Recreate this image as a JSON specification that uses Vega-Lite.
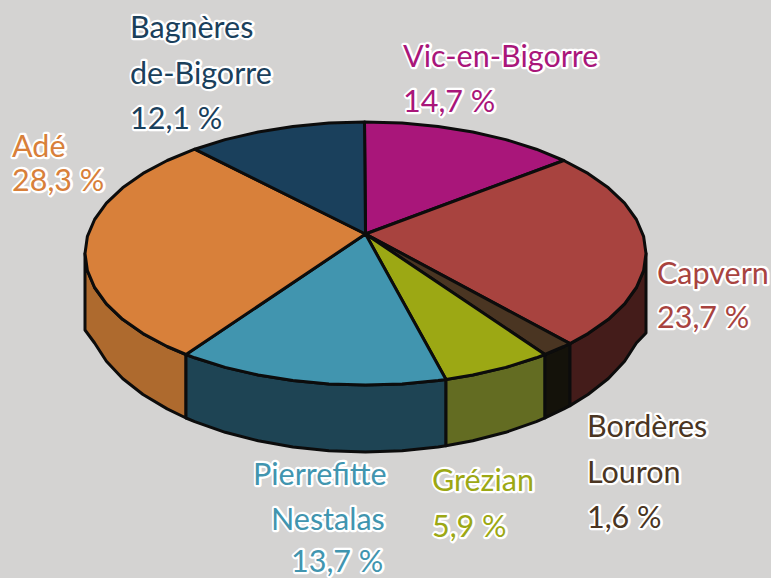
{"$schema":"https://vega.github.io/schema/vega-lite/v6.json","width":771,"height":578,"autosize":{"type":"none"},"padding":0,"background":"#D4D3D2","view":{"stroke":null},"config":{"axis":{"domain":false,"grid":false}},
"datasets":{
"walls":[
{"p":"Adé","s":1,"x":85,"y":253.5},{"p":"Adé","s":2,"x":87.4,"y":270.7},{"p":"Adé","s":3,"x":94.6,"y":287.5},{"p":"Adé","s":4,"x":106.4,"y":303.8},{"p":"Adé","s":5,"x":122.6,"y":319.3},{"p":"Adé","s":6,"x":143,"y":333.6},{"p":"Adé","s":7,"x":167.2,"y":346.5},{"p":"Adé","s":8,"x":186,"y":354.5},{"p":"Adé","s":9,"x":186,"y":418},{"p":"Adé","s":10,"x":167.2,"y":408.9},{"p":"Adé","s":11,"x":143,"y":394.5},{"p":"Adé","s":12,"x":122.6,"y":378.5},{"p":"Adé","s":13,"x":106.4,"y":361.3},{"p":"Adé","s":14,"x":94.6,"y":343},{"p":"Adé","s":15,"x":85,"y":330},
{"p":"Pierrefitte","s":1,"x":186,"y":354.5},{"p":"Pierrefitte","s":2,"x":194.7,"y":357.8},{"p":"Pierrefitte","s":3,"x":225.2,"y":367.4},{"p":"Pierrefitte","s":4,"x":258.2,"y":375},{"p":"Pierrefitte","s":5,"x":292.9,"y":380.5},{"p":"Pierrefitte","s":6,"x":328.9,"y":383.9},{"p":"Pierrefitte","s":7,"x":365.5,"y":385},{"p":"Pierrefitte","s":8,"x":402.1,"y":383.9},{"p":"Pierrefitte","s":9,"x":438.1,"y":380.5},{"p":"Pierrefitte","s":10,"x":446,"y":379.4},{"p":"Pierrefitte","s":11,"x":446,"y":445.8},{"p":"Pierrefitte","s":12,"x":438.1,"y":447},{"p":"Pierrefitte","s":13,"x":402.1,"y":450.7},{"p":"Pierrefitte","s":14,"x":365.5,"y":452},{"p":"Pierrefitte","s":15,"x":328.9,"y":450.7},{"p":"Pierrefitte","s":16,"x":292.9,"y":447},{"p":"Pierrefitte","s":17,"x":258.2,"y":440.8},{"p":"Pierrefitte","s":18,"x":225.2,"y":432.3},{"p":"Pierrefitte","s":19,"x":194.7,"y":421.6},{"p":"Pierrefitte","s":20,"x":186,"y":418},
{"p":"Grézian","s":1,"x":446,"y":379.4},{"p":"Grézian","s":2,"x":472.8,"y":375},{"p":"Grézian","s":3,"x":505.8,"y":367.4},{"p":"Grézian","s":4,"x":536.3,"y":357.8},{"p":"Grézian","s":5,"x":545,"y":354.5},{"p":"Grézian","s":6,"x":545,"y":417.9},{"p":"Grézian","s":7,"x":536.3,"y":421.6},{"p":"Grézian","s":8,"x":505.8,"y":432.3},{"p":"Grézian","s":9,"x":472.8,"y":440.8},{"p":"Grézian","s":10,"x":446,"y":445.8},
{"p":"Bordères","s":1,"x":545,"y":354.5},{"p":"Bordères","s":2,"x":563.8,"y":346.5},{"p":"Bordères","s":3,"x":570,"y":343.6},{"p":"Bordères","s":4,"x":570,"y":405.6},{"p":"Bordères","s":5,"x":563.8,"y":408.9},{"p":"Bordères","s":6,"x":545,"y":417.9},
{"p":"Capvern","s":1,"x":570,"y":343.6},{"p":"Capvern","s":2,"x":588,"y":333.6},{"p":"Capvern","s":3,"x":608.4,"y":319.3},{"p":"Capvern","s":4,"x":624.6,"y":303.8},{"p":"Capvern","s":5,"x":636.4,"y":287.5},{"p":"Capvern","s":6,"x":643.6,"y":270.7},{"p":"Capvern","s":7,"x":646,"y":253.5},{"p":"Capvern","s":8,"x":646,"y":333},{"p":"Capvern","s":9,"x":636.4,"y":343},{"p":"Capvern","s":10,"x":624.6,"y":361.3},{"p":"Capvern","s":11,"x":608.4,"y":378.5},{"p":"Capvern","s":12,"x":588,"y":394.5},{"p":"Capvern","s":13,"x":570,"y":405.6}
],
"tops":[
{"p":"Vic-en-Bigorre","s":1,"x":365.5,"y":234},{"p":"Vic-en-Bigorre","s":2,"x":364.5,"y":122},{"p":"Vic-en-Bigorre","s":3,"x":402.1,"y":123.1},{"p":"Vic-en-Bigorre","s":4,"x":438.1,"y":126.5},{"p":"Vic-en-Bigorre","s":5,"x":472.8,"y":132},{"p":"Vic-en-Bigorre","s":6,"x":505.8,"y":139.6},{"p":"Vic-en-Bigorre","s":7,"x":536.3,"y":149.2},{"p":"Vic-en-Bigorre","s":8,"x":563.8,"y":160.5},
{"p":"Capvern","s":1,"x":365.5,"y":234},{"p":"Capvern","s":2,"x":563.8,"y":160.5},{"p":"Capvern","s":3,"x":588,"y":173.4},{"p":"Capvern","s":4,"x":608.4,"y":187.8},{"p":"Capvern","s":5,"x":624.6,"y":203.2},{"p":"Capvern","s":6,"x":636.4,"y":219.5},{"p":"Capvern","s":7,"x":643.6,"y":236.3},{"p":"Capvern","s":8,"x":646,"y":253.5},{"p":"Capvern","s":9,"x":643.6,"y":270.7},{"p":"Capvern","s":10,"x":636.4,"y":287.5},{"p":"Capvern","s":11,"x":624.6,"y":303.8},{"p":"Capvern","s":12,"x":608.4,"y":319.3},{"p":"Capvern","s":13,"x":588,"y":333.6},{"p":"Capvern","s":14,"x":570,"y":343.6},
{"p":"Bordères","s":1,"x":365.5,"y":234},{"p":"Bordères","s":2,"x":570,"y":343.6},{"p":"Bordères","s":3,"x":563.8,"y":346.5},{"p":"Bordères","s":4,"x":545,"y":354.5},
{"p":"Grézian","s":1,"x":365.5,"y":234},{"p":"Grézian","s":2,"x":545,"y":354.5},{"p":"Grézian","s":3,"x":536.3,"y":357.8},{"p":"Grézian","s":4,"x":505.8,"y":367.4},{"p":"Grézian","s":5,"x":472.8,"y":375},{"p":"Grézian","s":6,"x":446,"y":379.4},
{"p":"Pierrefitte","s":1,"x":365.5,"y":234},{"p":"Pierrefitte","s":2,"x":446,"y":379.4},{"p":"Pierrefitte","s":3,"x":438.1,"y":380.5},{"p":"Pierrefitte","s":4,"x":402.1,"y":383.9},{"p":"Pierrefitte","s":5,"x":365.5,"y":385},{"p":"Pierrefitte","s":6,"x":328.9,"y":383.9},{"p":"Pierrefitte","s":7,"x":292.9,"y":380.5},{"p":"Pierrefitte","s":8,"x":258.2,"y":375},{"p":"Pierrefitte","s":9,"x":225.2,"y":367.4},{"p":"Pierrefitte","s":10,"x":194.7,"y":357.8},{"p":"Pierrefitte","s":11,"x":186,"y":354.5},
{"p":"Adé","s":1,"x":365.5,"y":234},{"p":"Adé","s":2,"x":186,"y":354.5},{"p":"Adé","s":3,"x":167.2,"y":346.5},{"p":"Adé","s":4,"x":143,"y":333.6},{"p":"Adé","s":5,"x":122.6,"y":319.3},{"p":"Adé","s":6,"x":106.4,"y":303.8},{"p":"Adé","s":7,"x":94.6,"y":287.5},{"p":"Adé","s":8,"x":87.4,"y":270.7},{"p":"Adé","s":9,"x":85,"y":253.5},{"p":"Adé","s":10,"x":87.4,"y":236.3},{"p":"Adé","s":11,"x":94.6,"y":219.5},{"p":"Adé","s":12,"x":106.4,"y":203.2},{"p":"Adé","s":13,"x":122.6,"y":187.8},{"p":"Adé","s":14,"x":143,"y":173.4},{"p":"Adé","s":15,"x":167.2,"y":160.5},{"p":"Adé","s":16,"x":194.7,"y":149.2},
{"p":"Bagnères","s":1,"x":365.5,"y":234},{"p":"Bagnères","s":2,"x":194.7,"y":149.2},{"p":"Bagnères","s":3,"x":225.2,"y":139.6},{"p":"Bagnères","s":4,"x":258.2,"y":132},{"p":"Bagnères","s":5,"x":292.9,"y":126.5},{"p":"Bagnères","s":6,"x":328.9,"y":123.1},{"p":"Bagnères","s":7,"x":364.5,"y":122}
],
"labels":[
{"p":"Bagnères","t":"Bagnères","x":130,"y":38},{"p":"Bagnères","t":"de-Bigorre","x":130,"y":84},{"p":"Bagnères","t":"12,1 %","x":130,"y":129},
{"p":"Vic-en-Bigorre","t":"Vic-en-Bigorre","x":403,"y":67},{"p":"Vic-en-Bigorre","t":"14,7 %","x":403,"y":112},
{"p":"Adé","t":"Adé","x":12,"y":157},{"p":"Adé","t":"28,3 %","x":12,"y":191},
{"p":"Capvern","t":"Capvern","x":657,"y":284},{"p":"Capvern","t":"23,7 %","x":657,"y":328},
{"p":"Bordères","t":"Bordères","x":587,"y":437},{"p":"Bordères","t":"Louron","x":587,"y":483},{"p":"Bordères","t":"1,6 %","x":587,"y":528},
{"p":"Pierrefitte","t":"Pierrefitte","x":253,"y":485},{"p":"Pierrefitte","t":"Nestalas","x":271,"y":530},{"p":"Pierrefitte","t":"13,7 %","x":291,"y":572},
{"p":"Grézian","t":"Grézian","x":432,"y":491},{"p":"Grézian","t":"5,9 %","x":432,"y":537}
]},
"layer":[
{"data":{"name":"walls"},"mark":{"type":"line","filled":true,"interpolate":"linear-closed","stroke":"#0c0c0c","strokeWidth":3,"strokeJoin":"round","clip":false},
"encoding":{"x":{"field":"x","type":"quantitative","scale":{"domain":[0,771]},"axis":null},"y":{"field":"y","type":"quantitative","scale":{"domain":[578,0]},"axis":null},"order":{"field":"s","type":"quantitative"},
"fill":{"field":"p","type":"nominal","legend":null,"scale":{"domain":["Adé","Pierrefitte","Grézian","Bordères","Capvern"],"range":["#AE6A2E","#1E4454","#636C22","#14120A","#441C1A"]}}}},
{"data":{"name":"tops"},"mark":{"type":"line","filled":true,"interpolate":"linear-closed","stroke":"#0c0c0c","strokeWidth":3,"strokeJoin":"round","clip":false},
"encoding":{"x":{"field":"x","type":"quantitative","scale":{"domain":[0,771]},"axis":null},"y":{"field":"y","type":"quantitative","scale":{"domain":[578,0]},"axis":null},"order":{"field":"s","type":"quantitative"},
"fill":{"field":"p","type":"nominal","legend":null,"scale":{"domain":["Adé","Pierrefitte","Grézian","Bordères","Capvern","Vic-en-Bigorre","Bagnères"],"range":["#D8803A","#4195AF","#9CA814","#4A3522","#A8433F","#A9167A","#1A405C"]}}}},
{"data":{"name":"labels"},"mark":{"type":"text","align":"left","baseline":"alphabetic","font":"Lato","fontSize":30.5,"dx":0.5,"strokeJoin":"round"},
"encoding":{"x":{"field":"x","type":"quantitative","scale":{"domain":[0,771]},"axis":null},"y":{"field":"y","type":"quantitative","scale":{"domain":[578,0]},"axis":null},"text":{"field":"t"},"fill":{"value":"#ffffff"},"stroke":{"value":"#ffffff"},"strokeWidth":{"value":4.5}}},
{"data":{"name":"labels"},"mark":{"type":"text","align":"left","baseline":"alphabetic","font":"Lato","fontSize":30.5},
"encoding":{"x":{"field":"x","type":"quantitative","scale":{"domain":[0,771]},"axis":null},"y":{"field":"y","type":"quantitative","scale":{"domain":[578,0]},"axis":null},"text":{"field":"t"},
"color":{"field":"p","type":"nominal","legend":null,"scale":{"domain":["Adé","Pierrefitte","Grézian","Bordères","Capvern","Vic-en-Bigorre","Bagnères"],"range":["#D8803A","#4195AF","#9CA814","#4A3522","#A8433F","#A9167A","#1A405C"]}}}}
],
"resolve":{"scale":{"fill":"independent","color":"independent"}}}
